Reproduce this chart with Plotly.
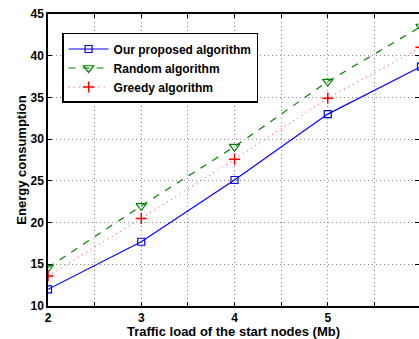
import plotly.graph_objects as go

x_vals = [2, 3, 4, 5, 6]
proposed = [12.0, 17.7, 25.1, 33.0, 38.7]
random_alg = [14.6, 22.0, 29.1, 36.9, 43.5]
greedy = [13.6, 20.5, 27.6, 34.9, 41.0]
x_ticks = [2, 2.5, 3, 3.5, 4, 4.5, 5, 5.5, 6]
x_ticktext = ["2", "", "3", "", "4", "", "5", "", "6"]
y_ticks = [10, 15, 20, 25, 30, 35, 40, 45]

font_fam = "Liberation Sans, Arial, sans-serif"

fig = go.Figure()
fig.add_trace(go.Scatter(x=x_vals, y=proposed, mode="lines+markers", name="Our proposed algorithm",
                         line=dict(color="#0000ff", width=1.2),
                         marker=dict(symbol="square-open", size=7, color="#0000ff", line=dict(width=1.2))))
fig.add_trace(go.Scatter(x=x_vals, y=random_alg, mode="lines+markers", name="Random algorithm",
                         line=dict(color="#008000", width=1.2, dash="7px,7px"),
                         marker=dict(symbol="triangle-down-open", size=9, color="#008000", line=dict(width=1.2))))
fig.add_trace(go.Scatter(x=x_vals, y=greedy, mode="lines+markers", name="Greedy algorithm",
                         line=dict(color="#ff3333", width=1, dash="1px,4px"),
                         marker=dict(symbol="cross-thin", size=8, color="#ff0000", line=dict(width=1.5, color="#ff0000"))))

fig.update_layout(
    width=419, height=339,
    margin=dict(l=48, r=0, t=14, b=33),
    paper_bgcolor="white", plot_bgcolor="white",
    font=dict(family=font_fam, size=12, color="black"),
    showlegend=True,
    legend=dict(x=0.038, y=0.935, xanchor="left", yanchor="top",
                bordercolor="black", borderwidth=1.5, bgcolor="white",
                font=dict(family=font_fam, size=12, color="black", weight="bold"),
                tracegroupgap=0, itemwidth=40),
    xaxis=dict(range=[2, 2 + 371 / 93.25], tickvals=x_ticks, ticktext=x_ticktext, automargin=False,
               ticks="inside", ticklen=4, tickcolor="black", showline=True, linecolor="black",
               linewidth=1.5, mirror="ticks", showgrid=True, gridcolor="#8a8a8a",
               griddash="1px,3px", gridwidth=1, zeroline=False,
               tickfont=dict(family=font_fam, size=12, color="black", weight="bold"),
               title=dict(text="Traffic load of the start nodes (Mb)", standoff=2,
                          font=dict(family=font_fam, size=13, color="black", weight="bold"))),
    yaxis=dict(range=[10, 45], tickvals=y_ticks, automargin=False,
               ticks="inside", ticklen=4, tickcolor="black", showline=True, linecolor="black",
               linewidth=1.5, mirror="ticks", showgrid=True, gridcolor="#8a8a8a",
               griddash="1px,3px", gridwidth=1, zeroline=False,
               tickfont=dict(family=font_fam, size=12, color="black", weight="bold"),
               title=dict(text="Energy consumption", standoff=1,
                          font=dict(family=font_fam, size=13, color="black", weight="bold"))),
)

fig.write_html("out.html", config={"displayModeBar": False},
               post_script="document.body.style.margin='0px';")
